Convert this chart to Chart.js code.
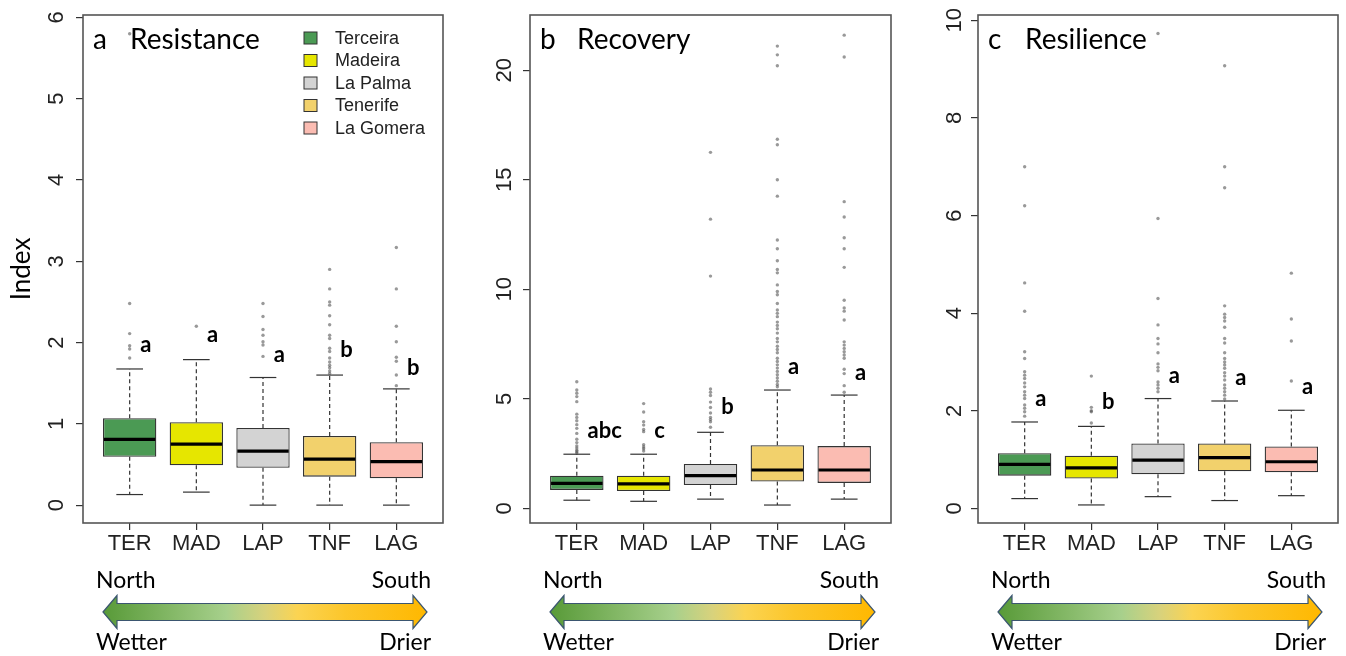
<!DOCTYPE html>
<html>
<head>
<meta charset="utf-8">
<script src="https://cdn.jsdelivr.net/npm/chart.js@4.4.1/dist/chart.umd.min.js"></script>
<style>
  body { margin: 0; background: #fff; width: 1346px; height: 656px; overflow: hidden; position: relative; }
  canvas { position: absolute; top: 0; }
</style>
</head>
<body>
<canvas id="cA" width="450" height="656" style="left:0px"></canvas>
<canvas id="cB" width="450" height="656" style="left:450px"></canvas>
<canvas id="cC" width="450" height="656" style="left:896px"></canvas>
<script>
const CATS = ['TER', 'MAD', 'LAP', 'TNF', 'LAG'];
const ISLANDS = ['Terceira', 'Madeira', 'La Palma', 'Tenerife', 'La Gomera'];

// a Resistance
const resTicks = [0, 1, 2, 3, 4, 5, 6];
const resLow = [0.13, 0.16, 0, 0, 0];
const resQ1 = [0.595, 0.49, 0.46, 0.35, 0.33];
const resMed = [0.81, 0.75, 0.665, 0.565, 0.535];
const resQ3 = [1.07, 1.02, 0.95, 0.85, 0.775];
const resHigh = [1.675, 1.79, 1.57, 1.60, 1.43];
const resOut = [
  [5.8, 2.48, 2.11, 1.96, 1.92, 1.81],
  [2.2],
  [2.48, 2.32, 2.16, 2.09, 2.01, 1.97, 1.83],
  [2.9, 2.66, 2.5, 2.46, 2.33, 2.22, 2.09, 2.05, 1.93, 1.89, 1.81, 1.76, 1.72, 1.69, 1.65, 1.62],
  [3.17, 2.66, 2.2, 2.01, 1.82, 1.77, 1.6, 1.47]
];
const resLetters = ['a', 'a', 'a', 'b', 'b'];
const resLetterY = [1.97, 2.09, 1.85, 1.91, 1.69];

// b Recovery
const recTicks = [0, 5, 10, 15, 20];
const recLow = [0.37, 0.32, 0.42, 0.15, 0.42];
const recQ1 = [0.84, 0.79, 1.06, 1.22, 1.16];
const recMed = [1.14, 1.12, 1.49, 1.75, 1.75];
const recQ3 = [1.49, 1.49, 2.02, 2.88, 2.84];
const recHigh = [2.47, 2.47, 3.47, 5.4, 5.17];
const recOut = [
  [5.78, 5.4, 5.25, 5.1, 4.87, 4.3, 4.15, 4.0, 3.82, 3.65, 3.42, 3.15, 3.0, 2.85, 2.75, 2.65, 2.58, 2.52],
  [4.78, 4.4, 3.95, 3.8, 3.6, 3.5, 2.9, 2.8, 2.72, 2.62],
  [16.25, 13.2, 10.6, 5.45, 5.3, 5.15, 4.85, 4.6, 4.35, 4.15, 4.05, 3.95, 3.7],
  [21.1, 20.7, 20.2, 16.85, 16.6, 15.0, 14.25, 12.25, 11.85, 11.3, 10.9, 10.75, 10.2, 9.9, 9.75, 9.35,
   9.05, 8.9, 8.75, 8.5, 8.35, 8.2, 8.0, 7.75, 7.6, 7.4, 7.25, 7.1, 6.85, 6.7, 6.55, 6.4, 6.25, 6.1,
   5.95, 5.8, 5.65, 5.55],
  [21.6, 20.6, 14.0, 13.3, 12.35, 11.85, 11.0, 9.5, 9.15, 9.0, 8.6, 7.6, 7.45, 7.3, 7.15, 7.0, 6.85,
   6.35, 6.15, 5.6, 5.3]
];
const recLetters = ['abc', 'c', 'b', 'a', 'a'];
const recLetterY = [3.53, 3.53, 4.63, 6.46, 6.18];

// c Resilience
const rslTicks = [0, 2, 4, 6, 8, 10];
const rslLow = [0.2, 0.07, 0.24, 0.16, 0.26];
const rslQ1 = [0.67, 0.61, 0.70, 0.76, 0.74];
const rslMed = [0.90, 0.83, 0.99, 1.04, 0.955];
const rslQ3 = [1.13, 1.08, 1.33, 1.33, 1.27];
const rslHigh = [1.77, 1.68, 2.25, 2.2, 2.01];
const rslOut = [
  [7.0, 6.2, 4.62, 4.04, 3.21, 3.07, 2.8, 2.73, 2.66, 2.57, 2.49, 2.39, 2.32, 2.25, 2.12, 2.05, 1.98, 1.89],
  [2.71, 2.07, 2.0, 1.98, 1.75],
  [9.73, 5.94, 4.3, 3.76, 3.48, 3.37, 3.19, 2.96, 2.89, 2.82, 2.59, 2.53, 2.46, 2.39],
  [9.07, 7.0, 6.57, 4.15, 3.98, 3.91, 3.84, 3.71, 3.48, 3.39, 3.19, 3.07, 3.0, 2.94, 2.87, 2.78, 2.71,
   2.63, 2.53, 2.46, 2.39, 2.32, 2.24],
  [4.82, 3.88, 3.43, 2.61]
];
const rslLetters = ['a', 'b', 'a', 'a', 'a'];
const rslLetterY = [2.24, 2.18, 2.71, 2.68, 2.48];

const FILLS = ['#4b9a54', '#e6e600', '#d3d3d3', '#f2d16c', '#fbbcb2'];

Chart.defaults.font.family = '"Liberation Sans", Arial, sans-serif';

function outlierPoints(groups) {
  const pts = [];
  groups.forEach((g, i) => g.forEach(v => pts.push({ x: i + 1, y: v })));
  return pts;
}

function seg(ctx, x0, y0, x1, y1) {
  ctx.beginPath();
  ctx.moveTo(x0, y0);
  ctx.lineTo(x1, y1);
  ctx.stroke();
}

// whiskers + staples under the boxes, medians on top
const boxPlugin = {
  id: 'boxWhisker',
  beforeDatasetsDraw(chart, args, o) {
    const { ctx, scales: { x, y } } = chart;
    const half = (x.getPixelForValue(2) - x.getPixelForValue(1)) * 0.8 / 2;
    ctx.save();
    ctx.strokeStyle = '#333';
    ctx.lineWidth = 1.2;
    o.low.forEach((lo, i) => {
      const px = x.getPixelForValue(i + 1);
      const yHi = y.getPixelForValue(o.high[i]);
      const yLo = y.getPixelForValue(lo);
      ctx.setLineDash([4, 3]);
      seg(ctx, px, y.getPixelForValue(o.q3[i]), px, yHi);
      seg(ctx, px, y.getPixelForValue(o.q1[i]), px, yLo);
      ctx.setLineDash([]);
      seg(ctx, px - half / 2, yHi, px + half / 2, yHi);
      seg(ctx, px - half / 2, yLo, px + half / 2, yLo);
    });
    ctx.restore();
  },
  afterDatasetDraw(chart, args, o) {
    if (args.index !== 0) return;
    const { ctx, scales: { x, y } } = chart;
    const half = (x.getPixelForValue(2) - x.getPixelForValue(1)) * 0.8 / 2;
    ctx.save();
    ctx.strokeStyle = '#000';
    ctx.lineWidth = 3.2;
    o.med.forEach((m, i) => {
      const px = x.getPixelForValue(i + 1);
      const py = y.getPixelForValue(m);
      seg(ctx, px - half + 1, py, px + half - 1, py);
    });
    ctx.restore();
  }
};

function drawArrow(ctx, x0, x1, yc) {
  const hh = 16.5, sh = 8.5, hl = 14;
  const g = ctx.createLinearGradient(x0, 0, x1, 0);
  g.addColorStop(0, '#589a38');
  g.addColorStop(0.38, '#a7d08c');
  g.addColorStop(0.5, '#d8d27c');
  g.addColorStop(0.6, '#fbd452');
  g.addColorStop(0.75, '#fcc62a');
  g.addColorStop(1, '#ffb800');
  ctx.beginPath();
  ctx.moveTo(x0, yc);
  ctx.lineTo(x0 + hl, yc - hh);
  ctx.lineTo(x0 + hl, yc - sh);
  ctx.lineTo(x1 - hl, yc - sh);
  ctx.lineTo(x1 - hl, yc - hh);
  ctx.lineTo(x1, yc);
  ctx.lineTo(x1 - hl, yc + hh);
  ctx.lineTo(x1 - hl, yc + sh);
  ctx.lineTo(x0 + hl, yc + sh);
  ctx.lineTo(x0 + hl, yc + hh);
  ctx.closePath();
  ctx.fillStyle = g;
  ctx.fill();
  ctx.strokeStyle = '#3b5670';
  ctx.lineWidth = 1.2;
  ctx.stroke();
}

const decorPlugin = {
  id: 'panelDecor',
  afterDraw(chart, args, o) {
    const { ctx, chartArea: a, scales: { x, y } } = chart;
    ctx.save();
    // frame
    ctx.strokeStyle = '#555';
    ctx.lineWidth = 1.6;
    ctx.strokeRect(a.left, a.top, a.right - a.left, a.bottom - a.top);

    // panel title
    ctx.fillStyle = '#000';
    ctx.font = '28px Lato';
    ctx.textBaseline = 'alphabetic';
    ctx.textAlign = 'left';
    ctx.fillText(o.tag, a.left + 10, a.top + 34);
    ctx.fillText(o.title, a.left + 47, a.top + 34);

    // group letters
    ctx.font = 'bold 22px Lato';
    ctx.textBaseline = 'middle';
    o.letters.forEach((t, i) => {
      ctx.fillText(t, x.getPixelForValue(i + 1.16), y.getPixelForValue(o.letterY[i]));
    });

    // legend (panel a only)
    if (o.legend) {
      ctx.font = '18px "Liberation Sans"';
      ISLANDS.forEach((name, i) => {
        const ry = a.top + 23 + i * 22.5;
        ctx.fillStyle = FILLS[i];
        ctx.fillRect(a.right - 139, ry - 6, 13, 12);
        ctx.strokeStyle = '#333';
        ctx.lineWidth = 1;
        ctx.strokeRect(a.right - 139, ry - 6, 13, 12);
        ctx.fillStyle = '#222';
        ctx.fillText(name, a.right - 108, ry + 1);
      });
    }

    // gradient arrow with labels
    drawArrow(ctx, a.left + 20, a.right - 16, a.bottom + 89);
    ctx.fillStyle = '#000';
    ctx.font = '23px Lato';
    ctx.textBaseline = 'alphabetic';
    ctx.textAlign = 'left';
    ctx.fillText('North', a.left + 13, a.bottom + 65);
    ctx.fillText('Wetter', a.left + 13, a.bottom + 127);
    ctx.textAlign = 'right';
    ctx.fillText('South', a.right - 12, a.bottom + 65);
    ctx.fillText('Drier', a.right - 12, a.bottom + 127);
    ctx.restore();
  }
};

function makePanel(id, p) {
  const tickGrid = { display: true, drawOnChartArea: false, drawTicks: true, tickLength: 7, color: '#333', lineWidth: 1.2, offset: false };
  return new Chart(document.getElementById(id), {
    type: 'bar',
    data: {
      datasets: [
        {
          data: CATS.map((c, i) => ({ x: i + 1, y: [p.q1[i], p.q3[i]] })),
          backgroundColor: FILLS,
          borderColor: '#333',
          borderWidth: 1.3,
          borderSkipped: false,
          categoryPercentage: 0.8,
          barPercentage: 1,
          order: 2
        },
        {
          type: 'scatter',
          data: outlierPoints(p.out),
          pointRadius: 1.7,
          pointBackgroundColor: 'rgba(70,70,70,0.55)',
          pointBorderWidth: 0,
          order: 1
        }
      ]
    },
    options: {
      responsive: false,
      animation: false,
      events: [],
      layout: { padding: { top: 15, right: p.padRight, bottom: 93, left: 0 } },
      plugins: {
        legend: { display: false },
        tooltip: { enabled: false },
        boxWhisker: { low: p.low, q1: p.q1, med: p.med, q3: p.q3, high: p.high },
        panelDecor: { tag: p.tag, title: p.title, letters: p.letters, letterY: p.letterY, legend: p.legend }
      },
      scales: {
        x: {
          type: 'linear',
          min: 0.3,
          max: 5.7,
          offset: false,
          afterBuildTicks: s => { s.ticks = CATS.map((c, i) => ({ value: i + 1 })); },
          afterFit: s => { s.height = 40; },
          ticks: {
            callback: v => CATS[Math.round(v) - 1],
            font: { size: 22 },
            color: '#222',
            padding: 1,
            autoSkip: false,
            maxRotation: 0
          },
          grid: tickGrid,
          border: { display: false }
        },
        y: {
          type: 'linear',
          min: p.yMin,
          max: p.yMax,
          afterBuildTicks: s => { s.ticks = p.ticks.map(v => ({ value: v })); },
          afterFit: s => { s.width = p.axisWidth; s.paddingTop = 8; s.paddingBottom = 8; },
          ticks: {
            minRotation: 90,
            maxRotation: 90,
            crossAlign: 'center',
            padding: p.tickPad,
            font: { size: 22 },
            color: '#222',
            callback: v => String(v)
          },
          grid: tickGrid,
          border: { display: false },
          title: {
            display: !!p.yTitle,
            text: p.yTitle || '',
            font: { family: 'Lato', size: 26 },
            color: '#000',
            padding: { top: 6, bottom: 0 }
          }
        }
      }
    },
    plugins: [boxPlugin, decorPlugin]
  });
}

makePanel('cA', {
  tag: 'a', title: 'Resistance', legend: true, yTitle: 'Index',
  low: resLow, q1: resQ1, med: resMed, q3: resQ3, high: resHigh, out: resOut,
  letters: resLetters, letterY: resLetterY, ticks: resTicks,
  yMin: -0.22, yMax: 6.03, axisWidth: 83, tickPad: 13, padRight: 7
});
makePanel('cB', {
  tag: 'b', title: 'Recovery', legend: false,
  low: recLow, q1: recQ1, med: recMed, q3: recQ3, high: recHigh, out: recOut,
  letters: recLetters, letterY: recLetterY, ticks: recTicks,
  yMin: -0.67, yMax: 22.52, axisWidth: 80, tickPad: 6, padRight: 9
});
makePanel('cC', {
  tag: 'c', title: 'Resilience', legend: false,
  low: rslLow, q1: rslQ1, med: rslMed, q3: rslQ3, high: rslHigh, out: rslOut,
  letters: rslLetters, letterY: rslLetterY, ticks: rslTicks,
  yMin: -0.30, yMax: 10.11, axisWidth: 82, tickPad: 4, padRight: 8
});
</script>
</body>
</html>
